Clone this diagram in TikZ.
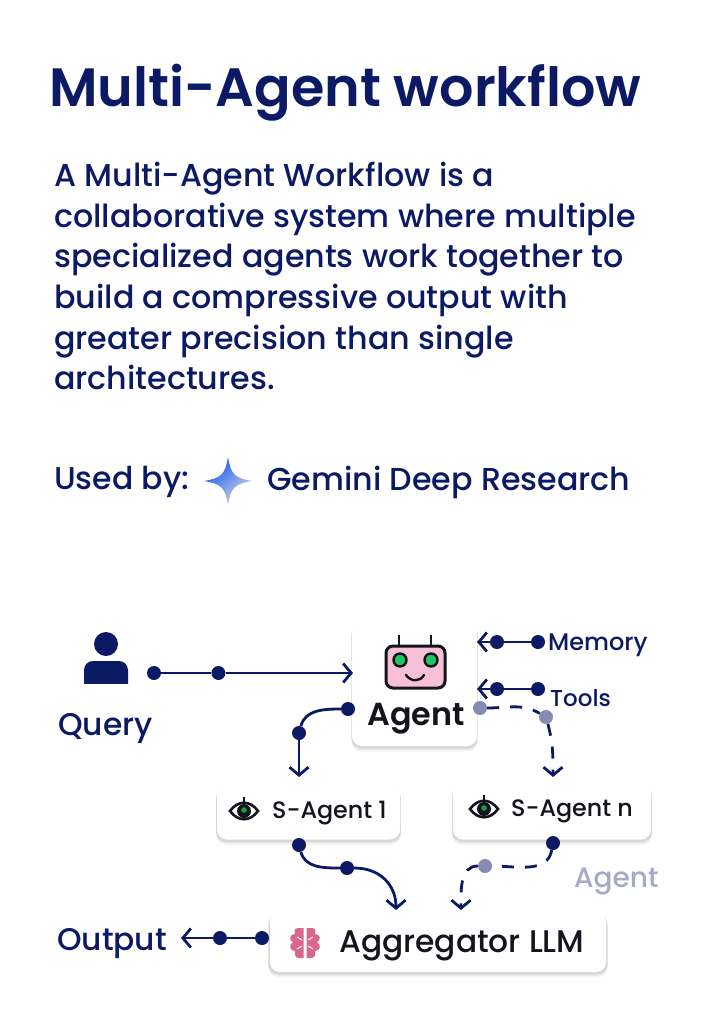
\documentclass[tikz,border=0pt]{standalone}
\usepackage{fontspec}
\setmainfont{Poppins Medium}[BoldFont={Poppins SemiBold}]
\usepackage{xcolor}
\usetikzlibrary{positioning,arrows.meta,shadows}

\definecolor{navy}{HTML}{0C1A66}
\definecolor{inkblack}{HTML}{14141C}
\definecolor{fadedink}{HTML}{A4ABC8}
\definecolor{robotpink}{HTML}{F7BFD8}
\definecolor{robotgreen}{HTML}{22C55E}
\definecolor{brainpink}{HTML}{D9668F}
\definecolor{starblue}{HTML}{0F55F0}
\definecolor{stargray}{HTML}{D8D8E0}

\tikzset{
    softbox/.style={draw=none, fill=white, rounded corners=10pt, inner sep=0pt, font=\fontsize{25}{25}\selectfont, text=inkblack,
        drop shadow={shadow xshift=0pt, shadow yshift=-5pt, shadow scale=1.01, opacity=.04, fill=black},
        drop shadow={shadow xshift=0pt, shadow yshift=-3.5pt, shadow scale=1.01, opacity=.05, fill=black},
        drop shadow={shadow xshift=0pt, shadow yshift=-2pt, shadow scale=1.01, opacity=.07, fill=black}},
    dotnode/.style={circle, fill=navy, draw=none, inner sep=0pt, minimum size=14pt},
    fadeddot/.style={dotnode, fill=navy!50},
    label/.style={text=navy, inner sep=0pt, anchor=west},
    flow/.style={navy, line width=2.8pt},
    tip/.style={-{Straight Barb[length=8pt,width=19pt,line width=2.8pt]}},
    dashflow/.style={flow, dash pattern=on 12pt off 11pt},
}

\begin{document}
\begin{tikzpicture}[x=1pt, y=-1pt]
    \useasboundingbox[fill=white] (0,0) rectangle (708,1024);

    % header text
    \node[label, font=\bfseries\fontsize{54}{55}\selectfont] (title) at (49,93) {Multi-Agent workflow};
    \node[label, anchor=north west, align=left, font=\fontsize{31.7}{40.6}\selectfont] (intro) at (54,162) {A Multi-Agent Workflow is a\\collaborative system where multiple\\specialized agents work together to\\build a compressive output with\\greater precision than single\\architectures.};
    \node[label, font=\fontsize{31.5}{32}\selectfont] (usedby) at (54,482) {Used by:};
    \node[label, font=\fontsize{31.7}{32}\selectfont] (gemini) at (267,482) {Gemini Deep Research};
    \coordinate (star) at (228,481);
    \shade[left color=starblue, middle color=starblue!75!stargray, right color=stargray, shading angle=40]
        (star) ++(-24,0) .. controls ++(17,-3) and ++(-3,18) .. ++(24,-24)
        .. controls ++(3,17) and ++(-18,-3) .. ++(24,24)
        .. controls ++(-17,3) and ++(3,-18) .. ++(-24,24)
        .. controls ++(-3,-17) and ++(18,3) .. cycle;

    % boxes
    \node[softbox, minimum width=125pt, minimum height=124pt] (agent) at (414.5,684) {};
    \node[softbox, minimum width=183pt, minimum height=55pt] (sagent1) at (308.5,812) {};
    \node[softbox, minimum width=198pt, minimum height=55pt] (sagentn) at (552,812) {};
    \node[softbox, minimum width=336pt, minimum height=60pt] (aggregator) at (438,942) {};
    \node[text=inkblack, inner sep=0pt, font=\bfseries\fontsize{31.8}{32}\selectfont] (agentname) at (416,719) {Agent};
    \node[text=inkblack, inner sep=0pt, anchor=west, font=\fontsize{23.8}{24}\selectfont] (name1) at (272,813) {S-Agent 1};
    \node[text=inkblack, inner sep=0pt, anchor=west, font=\fontsize{23.8}{24}\selectfont] (namen) at (511,811) {S-Agent n};
    \node[text=inkblack, inner sep=0pt, anchor=west, font=\fontsize{31.3}{32}\selectfont] (aggname) at (339,946) {Aggregator LLM};

    % outer labels
    \node[label, font=\fontsize{31.3}{32}\selectfont] (query) at (58,729) {Query};
    \node[label, font=\fontsize{24}{24}\selectfont] (memory) at (548,645) {Memory};
    \node[label, font=\fontsize{23}{23}\selectfont] (tools) at (550,698) {Tools};
    \node[label, font=\fontsize{31.3}{32}\selectfont] (output) at (57,944) {Output};
    \node[label, text=fadedink, font=\fontsize{28}{30}\selectfont] (agentnote) at (574,882) {Agent};

    % person
    \fill[navy] (106,644) circle (12);
    \fill[navy, rounded corners=9pt] (84,695) -- (84,661) -- (128,661) -- (128,695) -- cycle;
    \fill[white] (80,684) rectangle (132,698);

    % robot
    \draw[inkblack, line width=2.6pt] (399,646) -- (399,635) (431,646) -- (431,635);
    \draw[inkblack, line width=3pt, fill=robotpink, rounded corners=7pt] (386,646) rectangle (445,688);
    \foreach \ex in {400,431} {
        \draw[inkblack, line width=2.4pt, fill=robotgreen] (\ex,660) circle (6.5);
    }
    \draw[inkblack, line width=2.4pt, line cap=round] (406,675) .. controls (411,682) and (420,682) .. (424,675);

    % eye icons
    \foreach \ex/\ey in {244/811, 484/809} {
        \begin{scope}[shift={(\ex,\ey)}]
            \draw[inkblack, line width=2.6pt, fill=white] (-14,0) .. controls (-6,-11) and (6,-11) .. (14,0) .. controls (6,11) and (-6,11) .. (-14,0) -- cycle;
            \fill[inkblack] (0,0) circle (7);
            \fill[robotgreen!80!black] (0,-1) circle (2.8);
            \draw[inkblack, line width=1.6pt] (0,-14) -- (0,-9);
        \end{scope}
    }

    % brain
    \begin{scope}[shift={(305,943)}]
        \foreach \sx in {-1,1} {
            \begin{scope}[xscale=\sx]
                \fill[brainpink] (1.5,-15) -- (7,-15) .. controls (11,-15) and (11,-11) .. (10,-9) .. controls (16,-9) and (16,-2) .. (12,-1)
                    .. controls (16,1) and (16,8) .. (10,8) .. controls (11,12) and (9,15) .. (6,15) -- (1.5,15) -- cycle;
            \end{scope}
        }
        \draw[white, line width=1pt] (-8,-6) -- (-3,-3) (8,-6) -- (3,-3) (-8,6) -- (-3,3) (8,6) -- (3,3);
    \end{scope}

    % dots
    \node[dotnode] (qa) at (154,673) {};
    \node[dotnode] (qb) [right=50pt of qa] {};
    \node[dotnode] (leftout) at (348,709) {};
    \node[dotnode] (leftmid) at (299,733) {};
    \node[dotnode] (memr) at (538,642) {};
    \node[dotnode] (meml) at (497,642) {};
    \node[dotnode] (toolr) at (538,689) {};
    \node[dotnode] (tooll) at (497,689) {};
    \node[fadeddot] (dasha) at (480,708) {};
    \node[fadeddot] (dashb) at (546,717) {};
    \node[dotnode] (oneout) at (299,845) {};
    \node[dotnode] (onemid) at (347,868) {};
    \node[dotnode] (nout) at (553,843) {};
    \node[fadeddot] (nmid) at (485,866) {};
    \node[dotnode] (outr) at (262,938) {};
    \node[dotnode] (outl) at (220,938) {};

    % free ends
    \coordinate (qtip) at (353,673);
    \coordinate (onetip) at (299,777);
    \coordinate (memtip) at (477,642);
    \coordinate (tooltip) at (477,689);
    \coordinate (ntip) at (553,777);
    \coordinate (aggtip) at (396,910);
    \coordinate (aggntip) at (461,910);
    \coordinate (outtip) at (181,938);

    \path[flow]
    (qa) edge (qb)
    (qb) edge[tip] (qtip)
    (leftout) edge[out=180, in=75] (leftmid)
    (leftmid) edge[tip] (onetip)
    (memr) edge (meml)
    (meml) edge[tip] (memtip)
    (toolr) edge (tooll)
    (tooll) edge[tip] (tooltip)
    (oneout) edge[out=-75, in=180] (onemid)
    (onemid) edge[tip, out=0, in=90, looseness=1.1] (aggtip)
    (outr) edge (outl)
    (outl) edge[tip] (outtip);

    \path[dashflow]
    (dasha) edge[out=0, in=150] (dashb)
    (dashb) edge[tip, out=-75, in=90] (ntip)
    (nout) edge[out=-100, in=0] (nmid)
    (nmid) edge[tip, out=180, in=90] (aggntip);
\end{tikzpicture}
\end{document}
